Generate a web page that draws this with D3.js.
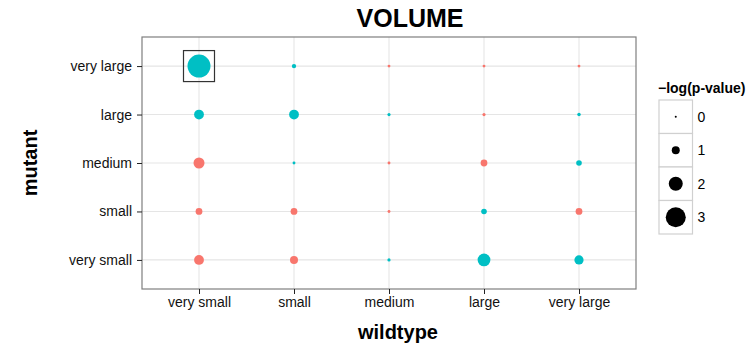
<!DOCTYPE html>
<html>
<head>
<meta charset="utf-8">
<script src="https://cdn.jsdelivr.net/npm/d3@7/dist/d3.min.js"></script>
<style>
  body { margin: 0; background: #fff; }
  text { font-family: "Liberation Sans", Arial, Helvetica, sans-serif; }
</style>
</head>
<body>
<div id="chart"></div>
<script>
// size categories, same on both axes
var categories = ["very small", "small", "medium", "large", "very large"];

// -log(p-value), one array per mutant row, wildtype columns in category order
var mutVerySmall = [1.3, 1.0, 0.2, 1.8, 1.2];
var mutSmall     = [0.8, 0.8, 0.15, 0.6, 0.8];
var mutMedium    = [1.5, 0.15, 0.15, 0.8, 0.6];
var mutLarge     = [1.3, 1.3, 0.2, 0.2, 0.25];
var mutVeryLarge = [3.5, 0.4, 0.15, 0.15, 0.15];

// direction of each cell (red = "higher", cyan = "lower")
var dirVerySmall = ["higher", "higher", "lower", "lower", "lower"];
var dirSmall     = ["higher", "higher", "higher", "lower", "higher"];
var dirMedium    = ["higher", "lower", "higher", "higher", "lower"];
var dirLarge     = ["lower", "lower", "lower", "higher", "lower"];
var dirVeryLarge = ["lower", "lower", "higher", "higher", "higher"];

var legendBreaks = [0, 1, 2, 3];
var highlightCell = ["very small", "very large"]; // [wildtype, mutant]

var rows = [mutVerySmall, mutSmall, mutMedium, mutLarge, mutVeryLarge];
var dirs = [dirVerySmall, dirSmall, dirMedium, dirLarge, dirVeryLarge];
var data = [];
rows.forEach(function(r, i) {
    r.forEach(function(v, j) {
        data.push({wt: categories[j], mut: categories[i], v: v, dir: dirs[i][j]});
    });
});

var W = 750, H = 349;
var panel = {left: 142, right: 636, top: 37, bottom: 289};

var svg = d3.select("#chart").append("svg")
    .attr("width", W).attr("height", H);

var x = d3.scalePoint().domain(categories)
    .range([panel.left, panel.right]).padding(0.6);
var y = d3.scalePoint().domain(categories)
    .range([panel.bottom, panel.top]).padding(0.6);
var r = d3.scaleLinear().domain([0, 3]).range([1, 10]);
var color = d3.scaleOrdinal().domain(["higher", "lower"]).range(["#F8766D", "#00BFC4"]);

// panel background + grid
svg.append("rect")
    .attr("x", panel.left).attr("y", panel.top)
    .attr("width", panel.right - panel.left).attr("height", panel.bottom - panel.top)
    .attr("fill", "#fff");

svg.selectAll(".vgrid").data(categories).enter().append("line")
    .attr("x1", function(d) { return x(d); }).attr("x2", function(d) { return x(d); })
    .attr("y1", panel.top).attr("y2", panel.bottom)
    .attr("stroke", "#e5e5e5").attr("stroke-width", 1.1);
svg.selectAll(".hgrid").data(categories).enter().append("line")
    .attr("y1", function(d) { return y(d); }).attr("y2", function(d) { return y(d); })
    .attr("x1", panel.left).attr("x2", panel.right)
    .attr("stroke", "#e5e5e5").attr("stroke-width", 1.1);

// points
svg.selectAll(".pt").data(data).enter().append("circle")
    .attr("cx", function(d) { return x(d.wt); })
    .attr("cy", function(d) { return y(d.mut); })
    .attr("r", function(d) { return r(d.v); })
    .attr("fill", function(d) { return color(d.dir); });

// highlight square
var hs = 31;
svg.append("rect")
    .attr("x", x(highlightCell[0]) - hs / 2).attr("y", y(highlightCell[1]) - hs / 2)
    .attr("width", hs).attr("height", hs)
    .attr("fill", "none").attr("stroke", "#333").attr("stroke-width", 1.2);

// panel border
svg.append("rect")
    .attr("x", panel.left).attr("y", panel.top)
    .attr("width", panel.right - panel.left).attr("height", panel.bottom - panel.top)
    .attr("fill", "none").attr("stroke", "#7f7f7f").attr("stroke-width", 1.2);

// axes
var xAxis = svg.append("g")
    .attr("transform", "translate(0," + panel.bottom + ")")
    .call(d3.axisBottom(x).tickSize(5).tickPadding(3));
var yAxis = svg.append("g")
    .attr("transform", "translate(" + panel.left + ",0)")
    .call(d3.axisLeft(y).tickSize(5).tickPadding(5));
[xAxis, yAxis].forEach(function(a) {
    a.select(".domain").remove();
    a.selectAll(".tick line").attr("stroke", "#222");
    a.selectAll(".tick text")
        .attr("font-size", 14).attr("fill", "#111")
        .style("font-family", "Liberation Sans, Arial, sans-serif");
});

// titles
svg.append("text")
    .attr("x", 410).attr("y", 27)
    .attr("text-anchor", "middle")
    .attr("font-size", 25).attr("font-weight", "bold")
    .text("VOLUME");

svg.append("text")
    .attr("x", 398).attr("y", 339)
    .attr("text-anchor", "middle")
    .attr("font-size", 20).attr("font-weight", "bold")
    .text("wildtype");

svg.append("text")
    .attr("transform", "translate(37,163) rotate(-90)")
    .attr("text-anchor", "middle")
    .attr("font-size", 20).attr("font-weight", "bold")
    .text("mutant");

// size legend
var lg = svg.append("g").attr("transform", "translate(659,100)");
var key = 33.5;
lg.append("text")
    .attr("x", -1).attr("y", -7)
    .attr("font-size", 14).attr("font-weight", "bold")
    .text("\u2212log(p-value)");

var keys = lg.selectAll(".key").data(legendBreaks).enter().append("g")
    .attr("transform", function(d, i) { return "translate(0," + (i * key) + ")"; });
keys.append("rect")
    .attr("width", key).attr("height", key)
    .attr("fill", "#fff").attr("stroke", "#d0d0d0").attr("stroke-width", 1.2);
keys.append("circle")
    .attr("cx", key / 2).attr("cy", key / 2)
    .attr("r", function(d) { return r(d); })
    .attr("fill", "#000");
keys.append("text")
    .attr("x", key + 5).attr("y", key / 2 + 5)
    .attr("font-size", 14)
    .text(function(d) { return d; });
</script>
</body>
</html>
